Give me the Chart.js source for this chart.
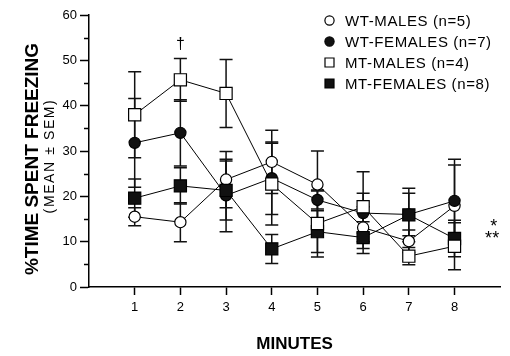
<!DOCTYPE html>
<html>
<head>
<meta charset="utf-8">
<script src="https://cdn.jsdelivr.net/npm/chart.js@4"></script>
<style>
html, body { margin: 0; padding: 0; background: #fff; overflow: hidden; }
#wrap { width: 510px; height: 356px; position: relative; }
#freezeChart { display: block; }
</style>
</head>
<body>
<div id="wrap"><canvas id="freezeChart"></canvas></div>
<script>
const minutes = [1, 2, 3, 4, 5, 6, 7, 8];

// mean % freezing per minute, and SEM
const wtMales      = [15.5, 14.3, 23.7, 27.6, 22.6, 13.1, 10.1, 17.9];
const wtMalesSem   = [2.0, 4.3, 6.2, 7.0, 7.4, 4.6, 2.5, 9.0];
const wtFemales    = [31.8, 34.0, 20.2, 24.0, 19.2, 16.3, 16.0, 19.0];
const wtFemalesSem = [9.8, 7.3, 8.0, 8.0, 2.0, 4.4, 4.7, 9.2];
const mtMales      = [38.0, 45.7, 42.7, 22.7, 14.0, 17.7, 6.8, 9.0];
const mtMalesSem   = [9.5, 4.7, 7.5, 9.0, 7.4, 7.7, 1.9, 5.2];
const mtFemales    = [19.6, 22.3, 21.3, 8.4, 12.2, 10.9, 15.9, 10.7];
const mtFemalesSem = [4.2, 4.0, 6.5, 3.2, 4.6, 3.5, 5.9, 4.0];

const labels = ['WT-MALES (n=5)', 'WT-FEMALES (n=7)', 'MT-MALES (n=4)', 'MT-FEMALES (n=8)'];

const FONT = "'Liberation Sans', Arial, Helvetica, sans-serif";

function series(label, values, sem, style, fill, order) {
    return {
        label: label,
        data: minutes.map((m, i) => ({ x: m, y: values[i] })),
        sem: sem,
        borderColor: '#000',
        borderWidth: 1,
        pointStyle: style,
        pointRadius: style === 'rect' ? 8.6 : 5.6,
        pointBackgroundColor: fill,
        pointBorderColor: '#000',
        pointBorderWidth: 1.2,
        order: order
    };
}

// error bars, drawn under the markers
const errorBars = {
    id: 'errorBars',
    beforeDatasetsDraw(chart) {
        const ctx = chart.ctx;
        const xs = chart.scales.x, ys = chart.scales.y;
        ctx.save();
        ctx.strokeStyle = '#111';
        ctx.lineWidth = 1.5;
        chart.data.datasets.forEach(ds => {
            ds.data.forEach((p, i) => {
                const x = xs.getPixelForValue(p.x);
                const top = ys.getPixelForValue(p.y + ds.sem[i]);
                const bot = ys.getPixelForValue(Math.max(0, p.y - ds.sem[i]));
                ctx.beginPath();
                ctx.moveTo(x, top); ctx.lineTo(x, bot);
                ctx.moveTo(x - 6.5, top); ctx.lineTo(x + 6.5, top);
                ctx.moveTo(x - 6.5, bot); ctx.lineTo(x + 6.5, bot);
                ctx.stroke();
            });
        });
        ctx.restore();
    }
};

// minor y ticks, titles, legend and significance marks
const extras = {
    id: 'extras',
    afterDraw(chart) {
        const ctx = chart.ctx;
        const xs = chart.scales.x, ys = chart.scales.y;
        const area = chart.chartArea;
        ctx.save();

        ctx.strokeStyle = '#000';
        ctx.lineWidth = 1.5;
        for (let v = 5; v < 60; v += 10) {
            const y = Math.round(ys.getPixelForValue(v)) + 0.5;
            ctx.beginPath();
            ctx.moveTo(area.left - 5, y); ctx.lineTo(area.left, y);
            ctx.stroke();
        }

        ctx.fillStyle = '#000';
        ctx.textAlign = 'center';
        ctx.textBaseline = 'middle';
        ctx.save();
        ctx.translate(33, 159);
        ctx.rotate(-Math.PI / 2);
        ctx.font = 'bold 19px ' + FONT;
        ctx.fillText('%TIME SPENT FREEZING', 0, 0);
        ctx.restore();
        ctx.save();
        ctx.translate(50, 156);
        ctx.rotate(-Math.PI / 2);
        ctx.font = '14px ' + FONT;
        ctx.letterSpacing = '1.6px';
        ctx.fillText('(MEAN \u00B1 SEM)', 0, 0);
        ctx.restore();

        // legend
        ctx.font = '15px ' + FONT;
        ctx.letterSpacing = '0.6px';
        ctx.textAlign = 'left';
        chart.data.datasets.forEach((ds, row) => {
            const cy = 20.5 + row * 21;
            const cx = 329.5;
            ctx.fillStyle = ds.pointBackgroundColor;
            ctx.strokeStyle = '#000';
            ctx.lineWidth = 1.2;
            ctx.beginPath();
            if (ds.pointStyle === 'circle') {
                ctx.arc(cx, cy, 4.6, 0, Math.PI * 2);
            } else {
                ctx.rect(cx - 4.5, cy - 4.5, 9, 9);
            }
            ctx.fill();
            ctx.stroke();
            ctx.fillStyle = '#000';
            ctx.fillText(ds.label, 345, cy + 1);
        });
        ctx.letterSpacing = '0px';

        // dagger over minute 2, stars at right
        ctx.textAlign = 'center';
        ctx.font = '16px ' + FONT;
        ctx.fillText('\u2020', xs.getPixelForValue(2), ys.getPixelForValue(53.4));
        ctx.font = '18px ' + FONT;
        ctx.textAlign = 'left';
        ctx.fillText('*', xs.getPixelForValue(8.78), ys.getPixelForValue(13.2));
        ctx.fillText('**', xs.getPixelForValue(8.67), ys.getPixelForValue(10.6));
        ctx.restore();
    }
};

const ctx = document.getElementById('freezeChart').getContext('2d');
new Chart(ctx, {
    type: 'line',
    data: {
        datasets: [
            series(labels[0], wtMales, wtMalesSem, 'circle', '#fff', 4),
            series(labels[1], wtFemales, wtFemalesSem, 'circle', '#111', 3),
            series(labels[2], mtMales, mtMalesSem, 'rect', '#fff', 1),
            series(labels[3], mtFemales, mtFemalesSem, 'rect', '#111', 2)
        ]
    },
    options: {
        responsive: true,
        maintainAspectRatio: false,
        animation: false,
        layout: { padding: { top: 15, right: -5, left: 0, bottom: 0 } },
        plugins: {
            legend: { display: false },
            tooltip: { enabled: false }
        },
        scales: {
            x: {
                type: 'linear',
                min: 0,
                max: 9,
                afterBuildTicks: s => { s.ticks = minutes.map(m => ({ value: m })); },
                afterFit: s => { s.height = 69; s.paddingLeft = 0; s.paddingRight = 0; },
                ticks: {
                    color: '#000',
                    padding: 5,
                    font: { family: FONT, size: 13 },
                    callback: v => String(v)
                },
                border: { display: true, color: '#000', width: 1.5 },
                grid: { display: true, drawOnChartArea: false, drawTicks: true, tickLength: 8, tickWidth: 1.5, tickColor: '#000' },
                title: {
                    display: true,
                    text: 'MINUTES',
                    color: '#000',
                    font: { family: FONT, size: 17, weight: 'bold' },
                    padding: { top: 0, bottom: 1 }
                }
            },
            y: {
                min: 0,
                max: 60,
                afterFit: s => { s.width = 89; s.paddingTop = 0; s.paddingBottom = 0; },
                ticks: {
                    stepSize: 10,
                    color: '#000',
                    padding: 3,
                    font: { family: FONT, size: 13 }
                },
                border: { display: true, color: '#000', width: 1.5 },
                grid: { display: true, drawOnChartArea: false, drawTicks: true, tickLength: 9, tickWidth: 1.5, tickColor: '#000' }
            }
        }
    },
    plugins: [errorBars, extras]
});
</script>
</body>
</html>
